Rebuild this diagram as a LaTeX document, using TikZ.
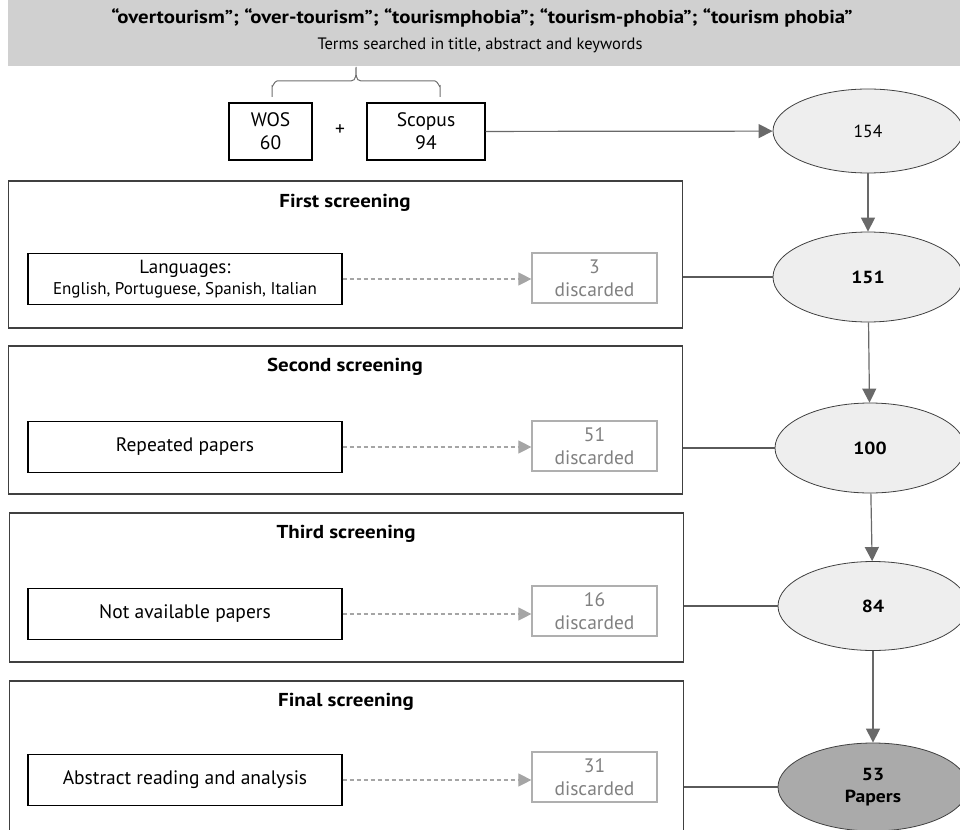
\documentclass[tikz,border=0pt]{standalone}
\usepackage{fontspec}
\setmainfont{PT Sans}[BoldFeatures={FakeStretch=1.12}]
\usetikzlibrary{arrows.meta,shapes.geometric}
\definecolor{bannergray}{RGB}{208,208,208}
\definecolor{ellfill}{RGB}{238,238,238}
\definecolor{finalfill}{RGB}{170,170,170}
\definecolor{arrcol}{RGB}{105,105,105}
\definecolor{outercol}{RGB}{64,64,64}
\definecolor{disccol}{RGB}{175,175,175}
\definecolor{disctext}{RGB}{128,128,128}
\definecolor{dashcol}{RGB}{165,165,165}
\definecolor{bracecol}{RGB}{110,110,110}
\definecolor{conncol}{RGB}{90,90,90}
\begin{document}
\begin{tikzpicture}[x=1pt,y=-1pt,
  font=\fontsize{19.5}{23}\selectfont,
  banner/.style={fill=bannergray, minimum width=952, minimum height=66, inner sep=0},
  srcbox/.style={draw=black, line width=1.2, minimum height=57, inner sep=0, align=center},
  ell/.style={ellipse, draw=outercol, line width=0.8, fill=ellfill, minimum width=190, inner sep=0, align=center, font=\fontsize{17.5}{22}\selectfont},
  outerbox/.style={draw=outercol, line width=1.5, minimum width=674, inner sep=0},
  inbox/.style={draw=black, line width=1.3, minimum width=314, minimum height=51, inner sep=0, align=center},
  disc/.style={draw=disccol, line width=1.2, minimum width=125, minimum height=50, inner sep=0, align=center, text=disctext},
  arr/.style={draw=arrcol, line width=1.2, -{Triangle[width=14, length=14]}},
  dasharr/.style={draw=dashcol, line width=1.1, dash pattern=on 4 off 3, -{Triangle[width=13, length=13, fill=dashcol]}},
  conn/.style={draw=conncol, line width=1.6},
  ttl/.style={font=\fontsize{18.7}{21}\selectfont\bfseries},
  bnum/.style={font=\fontsize{17.5}{22}\selectfont\bfseries}
]
\useasboundingbox (0,0) rectangle (960,829);
\clip (0,0) rectangle (960,829);

% banner
\node[banner] (banner) at (484,33) {};
\node[font=\fontsize{18.6}{21}\selectfont\bfseries] (terms) at (482,18) {“overtourism”; “over-tourism”; “tourismphobia”; “tourism-phobia”; “tourism phobia”};
\node[font=\fontsize{16.5}{20}\selectfont] (sub) at (480,45) {Terms searched in title, abstract and keywords};

% brace
\draw[bracecol, line width=1] (272,97) -- (272,86) to[out=-90,in=180] (277,81) -- (351,81) to[out=0,in=-90] (356,67)
  to[out=-90,in=180] (361,81) -- (435,81) to[out=0,in=-90] (440,86) -- (440,97);

% sources
\node[srcbox, minimum width=83] (wos) at (270.5,131.5) {WOS\\60};
\node (plus) at (340,130) {+};
\node[srcbox, minimum width=118] (scopus) at (426,131.5) {Scopus\\94};

% ellipses
\node[ell, minimum height=84] (e154) at (868,131) {154};
\node[ell, minimum height=90, bnum] (e151) at (868,277) {151};
\node[ell, minimum height=90, bnum] (e100) at (870,448) {100};
\node[ell, minimum height=89, bnum] (e84) at (873,606) {84};
\node[ell, minimum height=88, fill=finalfill, bnum] (e53) at (873,787) {53\\Papers};

\draw[arr] (scopus) -- (e154);
\draw[arr] (e154) -- (e151);
\draw[arr] (e151) -- (e100);
\draw[arr] (e100) -- (e84);
\draw[arr] (e84) -- (e53);

% first screening
\node[outerbox, minimum height=147] (s1) at (345.5,254.5) {};
\node[ttl] (t1) at (345,203) {First screening};
\node[inbox, font=\fontsize{17}{21}\selectfont] (in1) at (185,279) {{\fontsize{19}{21}\selectfont Languages:}\\English, Portuguese, Spanish, Italian};
\node[disc] (d1) at (594.5,278) {3\\discarded};
\draw[dasharr] (in1.east) -- (d1.west |- in1.east);
\draw[conn] (s1.east |- e151.west) -- (e151.west);

% second screening
\node[outerbox, minimum height=148] (s2) at (345.5,420) {};
\node[ttl] (t2) at (345,367) {Second screening};
\node[inbox] (in2) at (185,447) {Repeated papers};
\node[disc] (d2) at (594.5,446) {51\\discarded};
\draw[dasharr] (in2.east) -- (d2.west |- in2.east);
\draw[conn] (s2.east |- e100.west) -- (e100.west);

% third screening
\node[outerbox, minimum height=149] (s3) at (346.5,587.5) {};
\node[ttl] (t3) at (346,534) {Third screening};
\node[inbox] (in3) at (185,614) {Not available papers};
\node[disc] (d3) at (594.5,611) {16\\discarded};
\draw[dasharr] (in3.east) -- (d3.west |- in3.east);
\draw[conn] (s3.east |- e84.west) -- (e84.west);

% final screening
\node[outerbox, minimum height=160] (s4) at (346.5,761) {};
\node[ttl] (t4) at (346,702) {Final screening};
\node[inbox] (in4) at (185,780) {Abstract reading and analysis};
\node[disc] (d4) at (594.5,777) {31\\discarded};
\draw[dasharr] (in4.east) -- (d4.west |- in4.east);
\draw[conn] (s4.east |- e53.west) -- (e53.west);
\end{tikzpicture}
\end{document}
